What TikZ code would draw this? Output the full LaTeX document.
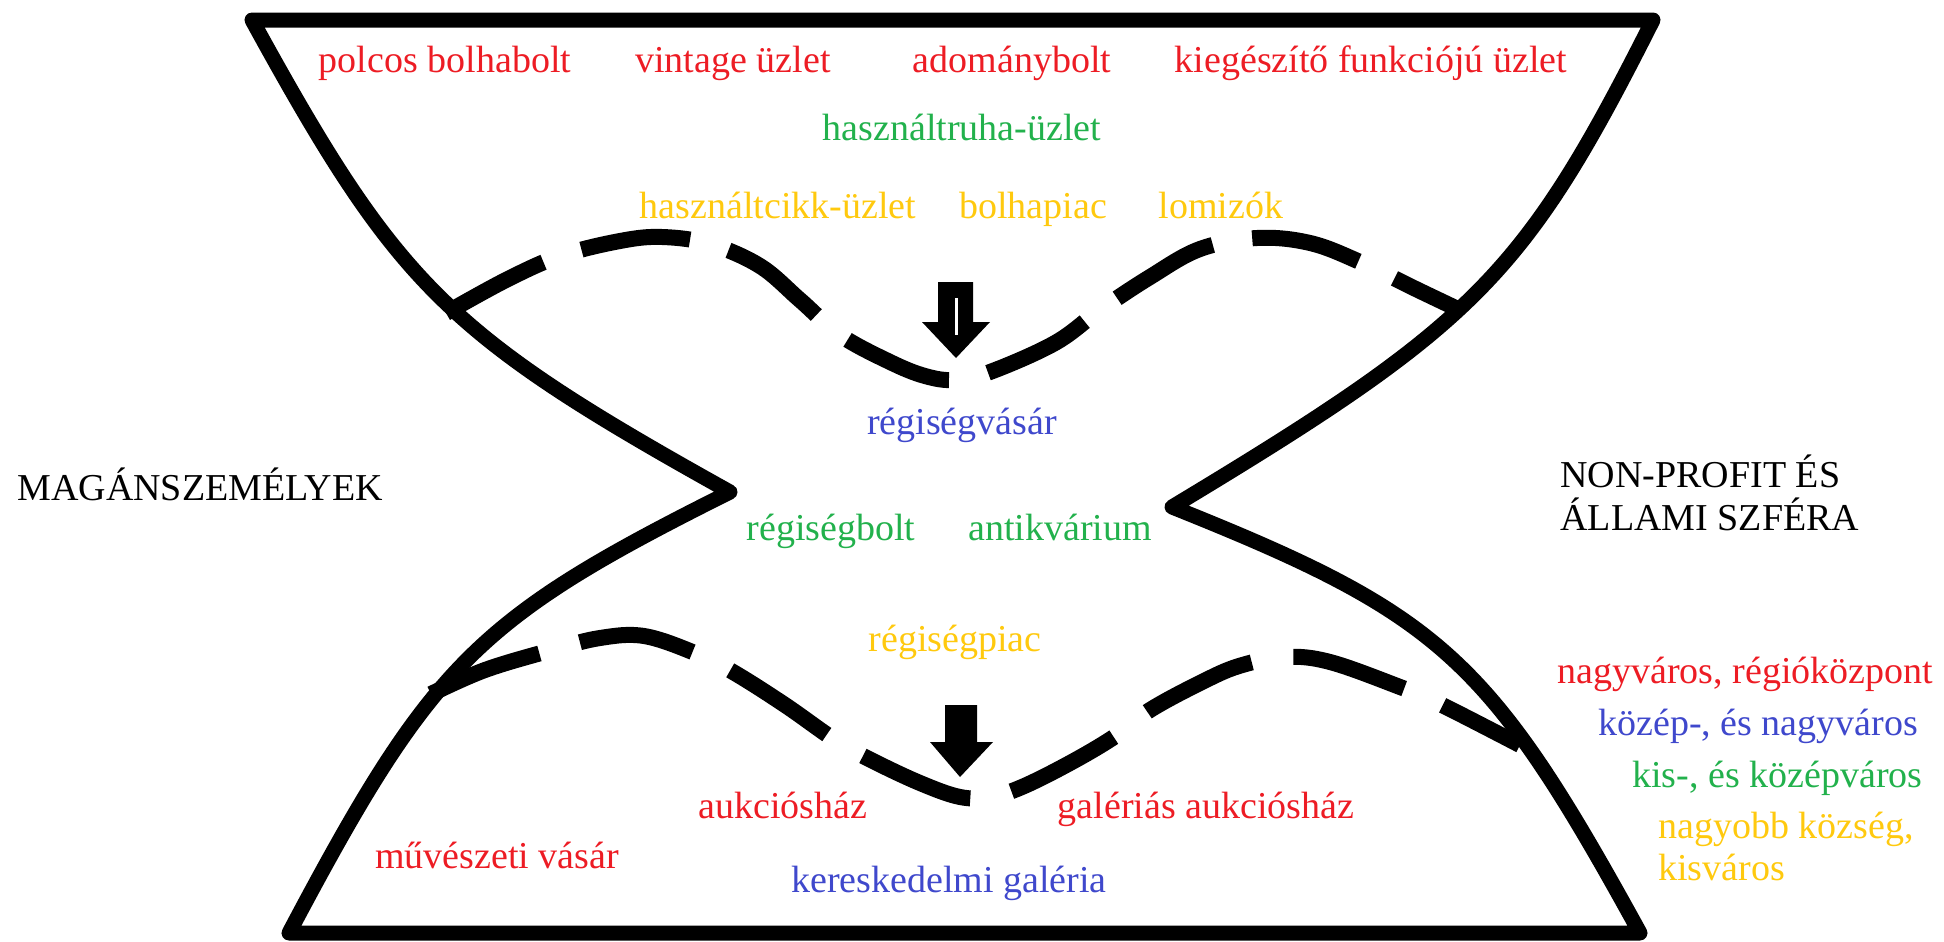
\documentclass[tikz,border=0pt]{standalone}
\usepackage{fontspec}
\setmainfont{Liberation Serif}

\definecolor{shopred}{RGB}{237,28,36}
\definecolor{shopgreen}{RGB}{34,177,76}
\definecolor{shopblue}{RGB}{63,72,204}
\definecolor{shopgold}{RGB}{255,201,14}

\begin{document}
\begin{tikzpicture}[x=0.5pt, y=-0.5pt]
	\tikzset{outline/.style={line width=7.5pt, line join=round, line cap=round},
		dashline/.style={line width=8pt, dash pattern=on 55pt off 20pt},
		txt/.style={anchor=base, inner sep=0pt, font=\fontsize{19}{23}\selectfont},
		side/.style={txt, anchor=base west}}
	\useasboundingbox (0,0) rectangle (1944,942);

	% hourglass outline
	\draw[outline] (252,20) -- (1653,20)
		.. controls (1524,276) and (1476,324) .. (1172,507)
		.. controls (1442,615) and (1489,658) .. (1640,933)
		-- (289,933)
		.. controls (432,663) and (476,619) .. (730,492)
		.. controls (446,334) and (398,286) .. cycle;

	% dashed borders
	\draw[dashline] plot[smooth, tension=0.6] coordinates {(446,313) (506,280) (560,256) (620,241) (662,237) (710,244) (760,266) (800,300) (840,335) (890,362) (925,376) (955,380) (990,372) (1055,343) (1100,310) (1150,277) (1200,249) (1257,238) (1310,243) (1360,262) (1420,291) (1462,311)};
	\draw[dashline, dash pattern=on 58pt off 21pt] plot[smooth, tension=0.6] coordinates {(431,694) (485,670) (552,650) (600,638) (644,636) (695,653) (733,672) (785,705) (835,740) (871,760) (920,783) (960,797) (990,797) (1022,787) (1070,763) (1114,737) (1150,710) (1200,683) (1239,666) (1285,657) (1330,662) (1400,687) (1438,703) (1520,745)};

	% arrows
	\fill (938,282) -- (973,282) -- (973,322) -- (990,322) -- (956,358) -- (922,322) -- (938,322) -- cycle;
	\draw[white, line width=1.5pt] (956,298) -- (956,335);
	\fill (945,705) -- (977,705) -- (977,742) -- (993,742) -- (960,777) -- (930,742) -- (945,742) -- cycle;

	% shops
	\node[txt, shopred] (polcos) at (445,72) {polcos bolhabolt};
	\node[txt, shopred] (vintage) at (733,72) {vintage üzlet};
	\node[txt, shopred] (adomany) at (1012,72) {adománybolt};
	\node[txt, shopred] (kieg) at (1371,72) {kiegészítő funkciójú üzlet};
	\node[txt, shopgreen] (hasznruha) at (962,140) {használtruha-üzlet};
	\node[txt, shopgold] (hasznc) at (778,218) {használtcikk-üzlet};
	\node[txt, shopgold] (bolhapiac) at (1033,218) {bolhapiac};
	\node[txt, shopgold] (lomi) at (1221,218) {lomizók};
	\node[txt, shopblue] (regvasar) at (962,434) {régiségvásár};
	\node[txt, shopgreen] (regbolt) at (831,540) {régiségbolt};
	\node[txt, shopgreen] (antikv) at (1060,540) {antikvárium};
	\node[txt, shopgold] (regpiac) at (955,651) {régiségpiac};
	\node[txt, shopred] (aukcio) at (783,818) {aukciósház};
	\node[txt, shopred] (galaukcio) at (1206,818) {galériás aukciósház};
	\node[txt, shopred] (muvvasar) at (497,868) {művészeti vásár};
	\node[txt, shopblue] (kergal) at (949,892) {kereskedelmi galéria};

	% sides
	\node[side] (magan) at (17,500) {MAGÁNSZEMÉLYEK};
	\node[side] (nonprofit) at (1560,487) {NON-PROFIT ÉS};
	\node[side] (allami) at (1560,530) {ÁLLAMI SZFÉRA};

	% settlements
	\node[side, shopred] (nagyv) at (1557,683) {nagyváros, régióközpont};
	\node[side, shopblue] (kozep) at (1598,735) {közép-, és nagyváros};
	\node[side, shopgreen] (kis) at (1632,787) {kis-, és középváros};
	\node[side, shopgold] (kozseg) at (1658,838) {nagyobb község,};
	\node[side, shopgold] (kisv) at (1658,880) {kisváros};
\end{tikzpicture}
\end{document}
